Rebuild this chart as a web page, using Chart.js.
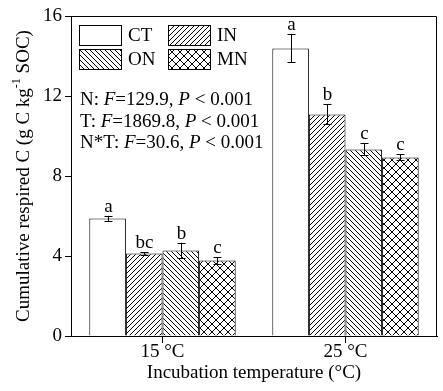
<!DOCTYPE html>
<html>
<head>
<meta charset="utf-8">
<script src="https://cdn.jsdelivr.net/npm/chart.js@4.4.1/dist/chart.umd.min.js"></script>
<style>
  html, body { margin: 0; padding: 0; background: #fff; }
</style>
</head>
<body>
<canvas id="chart" width="443" height="391"></canvas>
<script>
const categories = ['15 °C', '25 °C'];
const seriesNames = ['CT', 'IN', 'ON', 'MN'];

const ctValues = [5.88, 14.38];
const inValues = [4.13, 11.08];
const onValues = [4.28, 9.33];
const mnValues = [3.78, 8.93];

const ctErrors = [0.13, 0.7];
const inErrors = [0.07, 0.5];
const onErrors = [0.38, 0.3];
const mnErrors = [0.17, 0.15];

const ctLetters = ['a', 'a'];
const inLetters = ['bc', 'b'];
const onLetters = ['b', 'c'];
const mnLetters = ['c', 'c'];

const statLines = [
  [['N: ', false], ['F', true], ['=129.9, ', false], ['P', true], [' < 0.001', false]],
  [['T: ', false], ['F', true], ['=1869.8, ', false], ['P', true], [' < 0.001', false]],
  [['N*T: ', false], ['F', true], ['=30.6, ', false], ['P', true], [' < 0.001', false]]
];

const FONT = '"Liberation Serif", "Times New Roman", serif';
const FS = 19;

function makePattern(kind) {
  let n = kind === 'cross' ? 8 : 5;
  let c = document.createElement('canvas');
  c.width = n; c.height = n;
  let g = c.getContext('2d');
  g.fillStyle = '#fff';
  g.fillRect(0, 0, n, n);
  g.fillStyle = '#000';
  for (let i = 0; i < n; i++) {
    if (kind === 'fwd' || kind === 'cross') g.fillRect(i, n - 1 - i, 1, 1);
    if (kind === 'back' || kind === 'cross') g.fillRect(i, i, 1, 1);
  }
  return document.getElementById('chart').getContext('2d').createPattern(c, 'repeat');
}

const fills = ['#fff', makePattern('fwd'), makePattern('back'), makePattern('cross')];
const values = [ctValues, inValues, onValues, mnValues];
const errors = [ctErrors, inErrors, onErrors, mnErrors];
const letters = [ctLetters, inLetters, onLetters, mnLetters];

function drawRich(ctx, parts, x, y) {
  for (let [txt, italic] of parts) {
    ctx.font = (italic ? 'italic ' : '') + FS + 'px ' + FONT;
    ctx.fillText(txt, x, y);
    x += ctx.measureText(txt).width;
  }
}

const extras = {
  id: 'extras',
  afterDatasetsDraw(chart) {
    let { ctx, chartArea: area, scales: { y } } = chart;
    ctx.save();
    ctx.strokeStyle = '#000';
    ctx.fillStyle = '#000';
    ctx.lineWidth = 1;

    // frame top + right
    ctx.beginPath();
    ctx.moveTo(area.left, area.top + 0.5);
    ctx.lineTo(area.right - 0.5, area.top + 0.5);
    ctx.lineTo(area.right - 0.5, area.bottom);
    ctx.stroke();

    // error bars + letters
    ctx.font = FS + 'px ' + FONT;
    ctx.textAlign = 'center';
    ctx.textBaseline = 'alphabetic';
    chart.data.datasets.forEach((ds, di) => {
      chart.getDatasetMeta(di).data.forEach((bar, i) => {
        let x = Math.round(bar.x) + 0.5;
        let hi = y.getPixelForValue(values[di][i] + errors[di][i]);
        let lo = y.getPixelForValue(values[di][i] - errors[di][i]);
        ctx.beginPath();
        ctx.moveTo(x, hi); ctx.lineTo(x, lo);
        ctx.moveTo(x - 4, Math.round(hi) + 0.5); ctx.lineTo(x + 4, Math.round(hi) + 0.5);
        ctx.moveTo(x - 4, Math.round(lo) + 0.5); ctx.lineTo(x + 4, Math.round(lo) + 0.5);
        ctx.stroke();
        ctx.fillText(letters[di][i], x, hi - 4);
      });
    });

    // legend
    ctx.textAlign = 'left';
    ctx.textBaseline = 'middle';
    ctx.font = FS + 'px ' + FONT;
    seriesNames.forEach((name, i) => {
      let bx = area.left + 8 + (i % 2) * 89;
      let by = area.top + 9 + Math.floor(i / 2) * 24;
      ctx.fillStyle = fills[i];
      ctx.fillRect(bx, by, 43, 21);
      ctx.strokeRect(bx + 0.5, by + 0.5, 42, 20);
      ctx.fillStyle = '#000';
      ctx.fillText(name, bx + 49, by + 11);
    });

    // stats
    ctx.textBaseline = 'alphabetic';
    statLines.forEach((line, i) => drawRich(ctx, line, area.left + 9, area.top + 89 + i * 21.5));

    // y axis title
    ctx.translate(24, (area.top + area.bottom) / 2);
    ctx.rotate(-Math.PI / 2);
    ctx.textBaseline = 'middle';
    let p1 = 'Cumulative respired C (g C kg', sup = '-1', p2 = ' SOC)';
    ctx.font = FS + 'px ' + FONT;
    let w1 = ctx.measureText(p1).width, w3 = ctx.measureText(p2).width;
    ctx.font = '12px ' + FONT;
    let w2 = ctx.measureText(sup).width;
    let sx = -(w1 + w2 + w3) / 2;
    ctx.font = FS + 'px ' + FONT;
    ctx.fillText(p1, sx, 0);
    ctx.font = '12px ' + FONT;
    ctx.fillText(sup, sx + w1, -7);
    ctx.font = FS + 'px ' + FONT;
    ctx.fillText(p2, sx + w1 + w2, 0);
    ctx.restore();
  }
};

new Chart(document.getElementById('chart'), {
  type: 'bar',
  data: {
    labels: categories,
    datasets: seriesNames.map((name, i) => ({
      label: name,
      data: values[i],
      backgroundColor: fills[i],
      borderColor: '#000',
      borderWidth: 1,
      categoryPercentage: 0.8,
      barPercentage: 1
    }))
  },
  options: {
    responsive: false,
    animation: false,
    layout: { padding: { left: 0, right: 6, top: 16, bottom: 0 } },
    plugins: { legend: { display: false }, tooltip: { enabled: false } },
    scales: {
      x: {
        afterFit(s) { s.height = 55; },
        grid: { offset: false, drawOnChartArea: false, tickLength: 7, color: '#000' },
        border: { color: '#000' },
        ticks: { color: '#000', font: { family: FONT, size: FS }, padding: -2 },
        title: { display: true, text: 'Incubation temperature (°C)', color: '#000', font: { family: FONT, size: FS }, padding: { top: 0, bottom: 7 } }
      },
      y: {
        min: 0, max: 16,
        afterFit(s) { s.width = 71; },
        grid: { drawOnChartArea: false, tickLength: 6, color: '#000' },
        border: { color: '#000' },
        ticks: { stepSize: 4, color: '#000', font: { family: FONT, size: FS }, padding: 3 }
      }
    }
  },
  plugins: [extras]
});
</script>
</body>
</html>
